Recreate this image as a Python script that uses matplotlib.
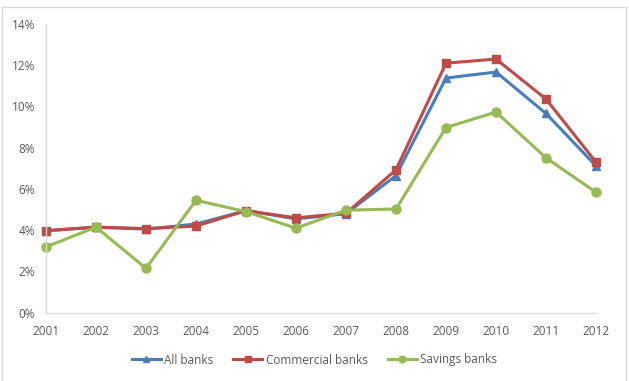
import matplotlib
matplotlib.use("Agg")
import matplotlib.pyplot as plt
from matplotlib.patches import Rectangle
from matplotlib.ticker import FuncFormatter, MultipleLocator

years = [2001, 2002, 2003, 2004, 2005, 2006, 2007, 2008, 2009, 2010, 2011, 2012]
all_banks = [3.97, 4.15, 4.05, 4.30, 4.95, 4.55, 4.80, 6.65, 11.38, 11.67, 9.66, 7.12]
commercial_banks = [3.98, 4.15, 4.08, 4.20, 4.95, 4.60, 4.82, 6.93, 12.10, 12.30, 10.36, 7.30]
savings_banks = [3.19, 4.15, 2.15, 5.45, 4.90, 4.10, 4.97, 5.03, 8.98, 9.73, 7.51, 5.84]

W, H = 629, 381
plt.rcParams['font.family'] = ['Open Sans', 'DejaVu Sans']
fig = plt.figure(figsize=(W / 100, H / 100), dpi=100)

fig.patches.append(Rectangle((2 / W, -0.01), (624 / W), (H - 7) / H + 0.01, transform=fig.transFigure,
                             fill=False, edgecolor='#d9d9d9', linewidth=1.0))

ax = fig.add_axes([46 / W, (H - 312.7) / H, (596 - 46) / W, (312.7 - 24) / H])
ax.plot(years, all_banks, color='#4a7ebb', marker='^', markersize=6, linewidth=2.2, label='All banks')
ax.plot(years, commercial_banks, color='#be4b48', marker='s', markersize=6, linewidth=2.2, label='Commercial banks')
ax.plot(years, savings_banks, color='#98b954', marker='o', markersize=6.5, linewidth=2.2, label='Savings banks')

ax.set_xlim(2001, 2012)
ax.set_ylim(0, 14)
ax.set_xticks(years)
ax.yaxis.set_major_locator(MultipleLocator(2))
ax.yaxis.set_major_formatter(FuncFormatter(lambda v, p: f"{v:.0f}%"))
for s in ['top', 'right']:
    ax.spines[s].set_visible(False)
for s in ['left', 'bottom']:
    ax.spines[s].set_color('#d9d9d9')
    ax.spines[s].set_linewidth(1)
ax.tick_params(axis='both', length=0, labelsize=8.5, colors='#595959')
ax.tick_params(axis='x', pad=9)
ax.tick_params(axis='y', pad=8)
for l in ax.lines:
    l.set_clip_on(False)

leg = fig.legend(loc='center', bbox_to_anchor=(0.5, (H - 360) / H), ncol=3, frameon=False,
                 fontsize=8.5, handlelength=2.45, columnspacing=1.7, handletextpad=0.3,
                 markerscale=0.75)
for t in leg.get_texts():
    t.set_color('#595959')

fig.savefig('out.png', dpi=100)
